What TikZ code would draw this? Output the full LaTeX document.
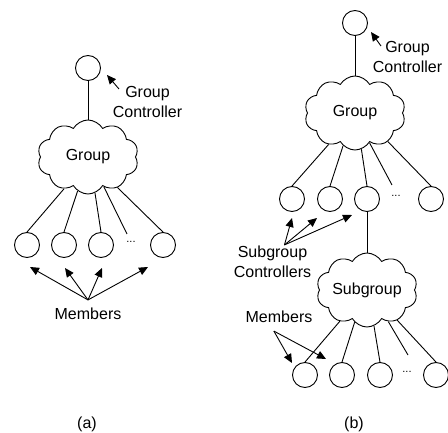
\documentclass[tikz,border=0pt]{standalone}
\usepackage{fontspec}
\setmainfont{Liberation Sans}
\usetikzlibrary{shapes.symbols,arrows.meta}
\begin{document}
\begin{tikzpicture}[x=1pt,y=-1pt,
  every node/.style={font=\fontsize{16}{20}\selectfont},
  member/.style={circle,draw,line width=0.9pt,minimum size=25pt,inner sep=0pt},
  grp/.style={cloud,draw,cloud puffs=10,cloud puff arc=120,cloud ignores aspect,
              minimum width=101pt,minimum height=74pt,inner sep=0pt,line width=0.9pt},
  link/.style={line width=0.9pt},
  pointer/.style={line width=0.9pt,-{Triangle[length=9pt,width=8pt]}},
  lbl/.style={align=center,inner sep=1pt},
  memlbl/.style={inner xsep=1pt,inner ysep=8pt},
  dotlbl/.style={font=\fontsize{11}{11}\selectfont,inner sep=0pt}]
\useasboundingbox (0,0) rectangle (448,433);

% ---------- (a) ----------
\node[member] (ca) at (88,68) {};
\node[grp] (ga) at (88,157) {Group};
\draw[link] (ca.south) -- (ga.90);
\node[lbl] (gca) at (147.5,102) {Group\\Controller};
\coordinate (gcat) at (119,89);
\coordinate (gcah) at (107,75);
\draw[pointer] (gcat) -- (gcah);

\node[member] (ma1) at (27,245) {};
\node[member] (ma2) at (64,245) {};
\node[member] (ma3) at (101,245) {};
\node[member] (ma5) at (163,245) {};
\node[dotlbl] (da) at (131,242) {...};
\coordinate (fa) at (127,234);
\draw[link] (ga.233) -- (ma1.north);
\draw[link] (ga.253) -- (ma2.north);
\draw[link] (ga.281) -- (ma3.north);
\draw[link] (ga.298) -- (fa);
\draw[link] (ga.314) -- (ma5.north);

\node[memlbl] (mema) at (88,314) {Members};
\coordinate (ta1) at (30,267);
\coordinate (ta2) at (65,268);
\coordinate (ta3) at (102,268);
\coordinate (ta4) at (148,267);
\foreach \t in {ta1,ta2,ta3,ta4} \draw[pointer] (mema.north) -- (\t);

\node (capa) at (87,424) {(a)};

% ---------- (b) ----------
\node[member] (cb) at (355,23) {};
\node[grp] (gb) at (355,113) {Group};
\draw[link] (cb.south) -- (gb.90);
\node[lbl] (gcb) at (407.5,57) {Group\\Controller};
\coordinate (gcbt) at (381,46);
\coordinate (gcbh) at (371,32);
\draw[pointer] (gcbt) -- (gcbh);

\node[member] (sb1) at (292,199) {};
\node[member] (sb2) at (330,199) {};
\node[member] (sb3) at (367,199) {};
\node[member] (sb5) at (431,199) {};
\node[dotlbl] (db) at (396,196) {...};
\coordinate (fb) at (392,185);
\draw[link] (gb.230) -- (sb1.north);
\draw[link] (gb.250) -- (sb2.north);
\draw[link] (gb.280) -- (sb3.north);
\draw[link] (gb.296) -- (fb);
\draw[link] (gb.319) -- (sb5.north);

\node[lbl] (sc) at (272.5,262) {Subgroup\\Controllers};
\coordinate (ts1) at (292,218);
\coordinate (ts2) at (317,218);
\coordinate (ts3) at (352,215);
\foreach \t in {ts1,ts2,ts3} \draw[pointer] (sc.55) -- (\t);

\node[grp] (sg) at (367,290) {Subgroup};
\draw[link] (sb3.south) -- (sg.90);

\node[member] (mb1) at (305,375) {};
\node[member] (mb2) at (342,375) {};
\node[member] (mb3) at (380,375) {};
\node[member] (mb5) at (436,375) {};
\node[dotlbl] (dc) at (407,372) {...};
\coordinate (fc) at (408,355);
\draw[link] (sg.229) -- (mb1.north);
\draw[link] (sg.249) -- (mb2.north);
\draw[link] (sg.281) -- (mb3.north);
\draw[link] (sg.304) -- (fc);
\draw[link] (sg.315) -- (mb5.north);

\node[memlbl] (memb) at (279,317) {Members};
\coordinate (tm1) at (292,363);
\coordinate (tm2) at (326,359);
\foreach \t in {tm1,tm2} \draw[pointer] (memb.250) -- (\t);

\node (capb) at (354,424) {(b)};
\end{tikzpicture}
\end{document}
